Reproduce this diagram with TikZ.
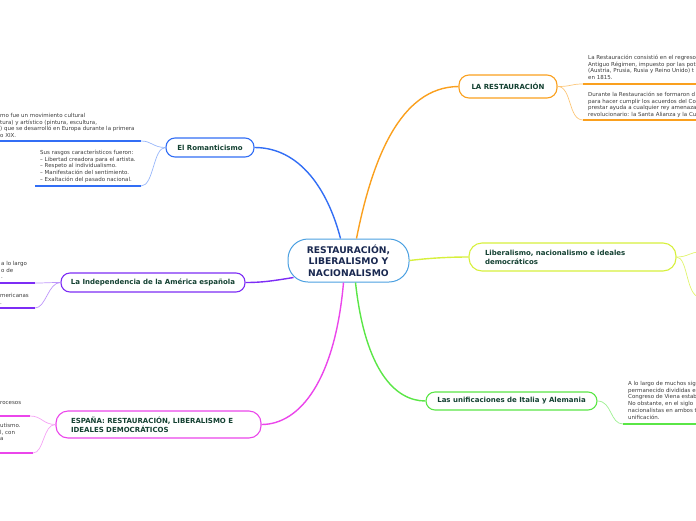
\documentclass[tikz,border=0pt]{standalone}
\usepackage{fontspec}
\setmainfont{DejaVu Sans}
\usetikzlibrary{calc}
\definecolor{corange}{RGB}{250,160,30}
\definecolor{cblue}{RGB}{50,110,245}
\definecolor{cpurple}{RGB}{125,45,245}
\definecolor{cmagenta}{RGB}{235,70,235}
\definecolor{cyellow}{RGB}{215,240,60}
\definecolor{cgreen}{RGB}{90,230,70}
\definecolor{ccenter}{RGB}{75,160,225}
\definecolor{ntext}{RGB}{20,65,50}
\definecolor{ctext}{RGB}{25,40,80}
\definecolor{stext}{RGB}{60,60,60}
\tikzset{
  topic/.style={draw, line width=1.1pt, fill=white, inner sep=0pt, text=ntext,
    font=\fontsize{7}{9}\selectfont\bfseries},
  note/.style={anchor=north west, inner sep=0pt, align=left, text=stext,
    font=\fontsize{5.5}{6.8}\selectfont},
  mainlink/.style={line width=1.4pt},
  sublink/.style={line width=0.7pt},
  uline/.style={line width=2pt},
}
\begin{document}
\begin{tikzpicture}[x=1pt,y=-1pt]
\useasboundingbox (0,0) rectangle (696,520);

% central node
\node[draw=ccenter, line width=1pt, fill=white, rounded corners=20pt, minimum width=121pt,
  minimum height=43pt, inner sep=0pt, align=center, text=ctext,
  font=\fontsize{9.2}{11.5}\selectfont\bfseries] (C) at (348.5,260.5)
  {RESTAURACIÓN,\\LIBERALISMO Y\\NACIONALISMO};

% topic nodes
\node[topic, draw=corange, rounded corners=10pt, minimum width=98pt, minimum height=23pt]
  (R) at (508,86.5) {LA RESTAURACIÓN};
\node[topic, draw=cblue, rounded corners=9pt, minimum width=88pt, minimum height=19pt]
  (Rom) at (210,147.5) {El Romanticismo};
\node[topic, draw=cpurple, rounded corners=9pt, minimum width=184pt, minimum height=19pt]
  (Ind) at (153,282.5) {La Independencia de la América española};
\node[topic, draw=cmagenta, rounded corners=12pt, minimum width=205pt, minimum height=27pt,
  text width=175pt, inner xsep=15pt, align=left]
  (Esp) at (158.5,424.5) {ESPAÑA: RESTAURACIÓN, LIBERALISMO E\\IDEALES DEMOCRÁTICOS};
\node[topic, draw=cyellow, rounded corners=13pt, minimum width=207pt, minimum height=28pt,
  text width=175pt, inner xsep=16pt, align=left]
  (Lib) at (572.5,257) {Liberalismo, nacionalismo e ideales\\democráticos};
\node[topic, draw=cgreen, rounded corners=9pt, minimum width=171pt, minimum height=18pt]
  (Uni) at (511.5,401) {Las unificaciones de Italia y Alemania};

% main links
\draw[mainlink, corange] ($(C.north)+(8,0)$) .. controls (372,160) and (400,87) .. (R.west);
\draw[mainlink, cblue] ($(C.north)+(-8,0)$) .. controls (328,190) and (300,147.5) .. (Rom.east);
\draw[mainlink, cpurple] ($(C.south west)+(6,-5)$) .. controls (272,281) and (262,282.5) .. (Ind.east);
\draw[mainlink, cmagenta] ($(C.south)+(-5,0)$) .. controls (335,380) and (300,424.5) .. (Esp.east);
\draw[mainlink, cgreen] ($(C.south)+(7,0)$) .. controls (365,370) and (395,401) .. (Uni.west);
\draw[mainlink, cyellow] (C.east) .. controls (430,258) and (450,257) .. (Lib.west);

% coordinates for notes
\coordinate (r1) at (583,84);   \coordinate (r1e) at (700,84);
\coordinate (r2) at (583,120);  \coordinate (r2e) at (700,120);
\coordinate (rm1) at (141,141); \coordinate (rm1e) at (-5,141);
\coordinate (rm2) at (141,186); \coordinate (rm2e) at (35,186);
\coordinate (i1) at (35,283);   \coordinate (i1e) at (-5,283);
\coordinate (i2) at (35,308);   \coordinate (i2e) at (-5,308);
\coordinate (e1) at (30,416);   \coordinate (e1e) at (-5,416);
\coordinate (e2) at (33,453);   \coordinate (e2e) at (-5,453);
\coordinate (l1) at (700,252);  \coordinate (l2) at (700,297);
\coordinate (u1) at (623,424);  \coordinate (u1e) at (700,424);

% sub links
\draw[sublink, corange!60] (R.east) .. controls (572,86.5) and (570,84) .. (r1);
\draw[sublink, corange!60] (R.east) .. controls (572,86.5) and (568,120) .. (r2);
\draw[sublink, cblue!50] (Rom.west) .. controls (153,147.5) and (152,141) .. (rm1);
\draw[sublink, cblue!50] (Rom.west) .. controls (153,147.5) and (154,186) .. (rm2);
\draw[sublink, cpurple!50] (Ind.west) .. controls (48,282.5) and (46,283) .. (i1);
\draw[sublink, cpurple!50] (Ind.west) .. controls (48,282.5) and (46,308) .. (i2);
\draw[sublink, cmagenta!50] (Esp.west) .. controls (43,424.5) and (42,416) .. (e1);
\draw[sublink, cmagenta!50] (Esp.west) .. controls (43,424.5) and (44,453) .. (e2);
\draw[sublink, cyellow!75] (Lib.east) .. controls (688,257) and (690,252) .. (l1);
\draw[sublink, cyellow!75] (Lib.east) .. controls (688,257) and (686,297) .. (l2);
\draw[sublink, cgreen!60] (Uni.east) .. controls (612,401) and (610,424) .. (u1);

% underlines
\draw[uline, corange] (r1) -- (r1e);
\draw[uline, corange] (r2) -- (r2e);
\draw[uline, cblue] (rm1) -- (rm1e);
\draw[uline, cblue] (rm2) -- (rm2e);
\draw[uline, cpurple] (i1) -- (i1e);
\draw[uline, cpurple] (i2) -- (i2e);
\draw[uline, cmagenta] (e1) -- (e1e);
\draw[uline, cmagenta] (e2) -- (e2e);
\draw[uline, cgreen] (u1) -- (u1e);

% notes
\node[note] (nr1) at (588,54.4) {\strut La Restauración consistió en el regreso\\Antiguo Régimen, impuesto por las pot\\(Austria, Prusia, Rusia y Reino Unido) t\\en 1815.};
\node[note] (nr2) at (588,91.4) {\strut Durante la Restauración se formaron d\\para hacer cumplir los acuerdos del Co\\prestar ayuda a cualquier rey amenaza\\revolucionario: la Santa Alianza y la Cu};
\node[note] (nrm1) at (0,112.4) {\strut mo fue un movimiento cultural\\tura) y artístico (pintura, escultura,\\) que se desarrolló en Europa durante la primera\\o XIX.};
\node[note] (nrm2) at (40,149.4) {\strut Sus rasgos característicos fueron:\\– Libertad creadora para el artista.\\– Respeto al individualismo.\\– Manifestación del sentimiento.\\– Exaltación del pasado nacional.};
\node[note] (ni1) at (1,260.4) {\strut a lo largo\\o de\\.};
\node[note] (ni2) at (0,292.4) {\strut mericanas\\.};
\node[note] (ne1) at (0,399.4) {\strut rocesos};
\node[note] (ne2) at (0,422.4) {\strut utismo.\\l, con\\a};
\node[note] (nu) at (628,380.4) {\strut A lo largo de muchos sig\\permanecido divididas e\\Congreso de Viena estab\\No obstante, en el siglo\\nacionalistas en ambos t\\unificación.};
\end{tikzpicture}
\end{document}
